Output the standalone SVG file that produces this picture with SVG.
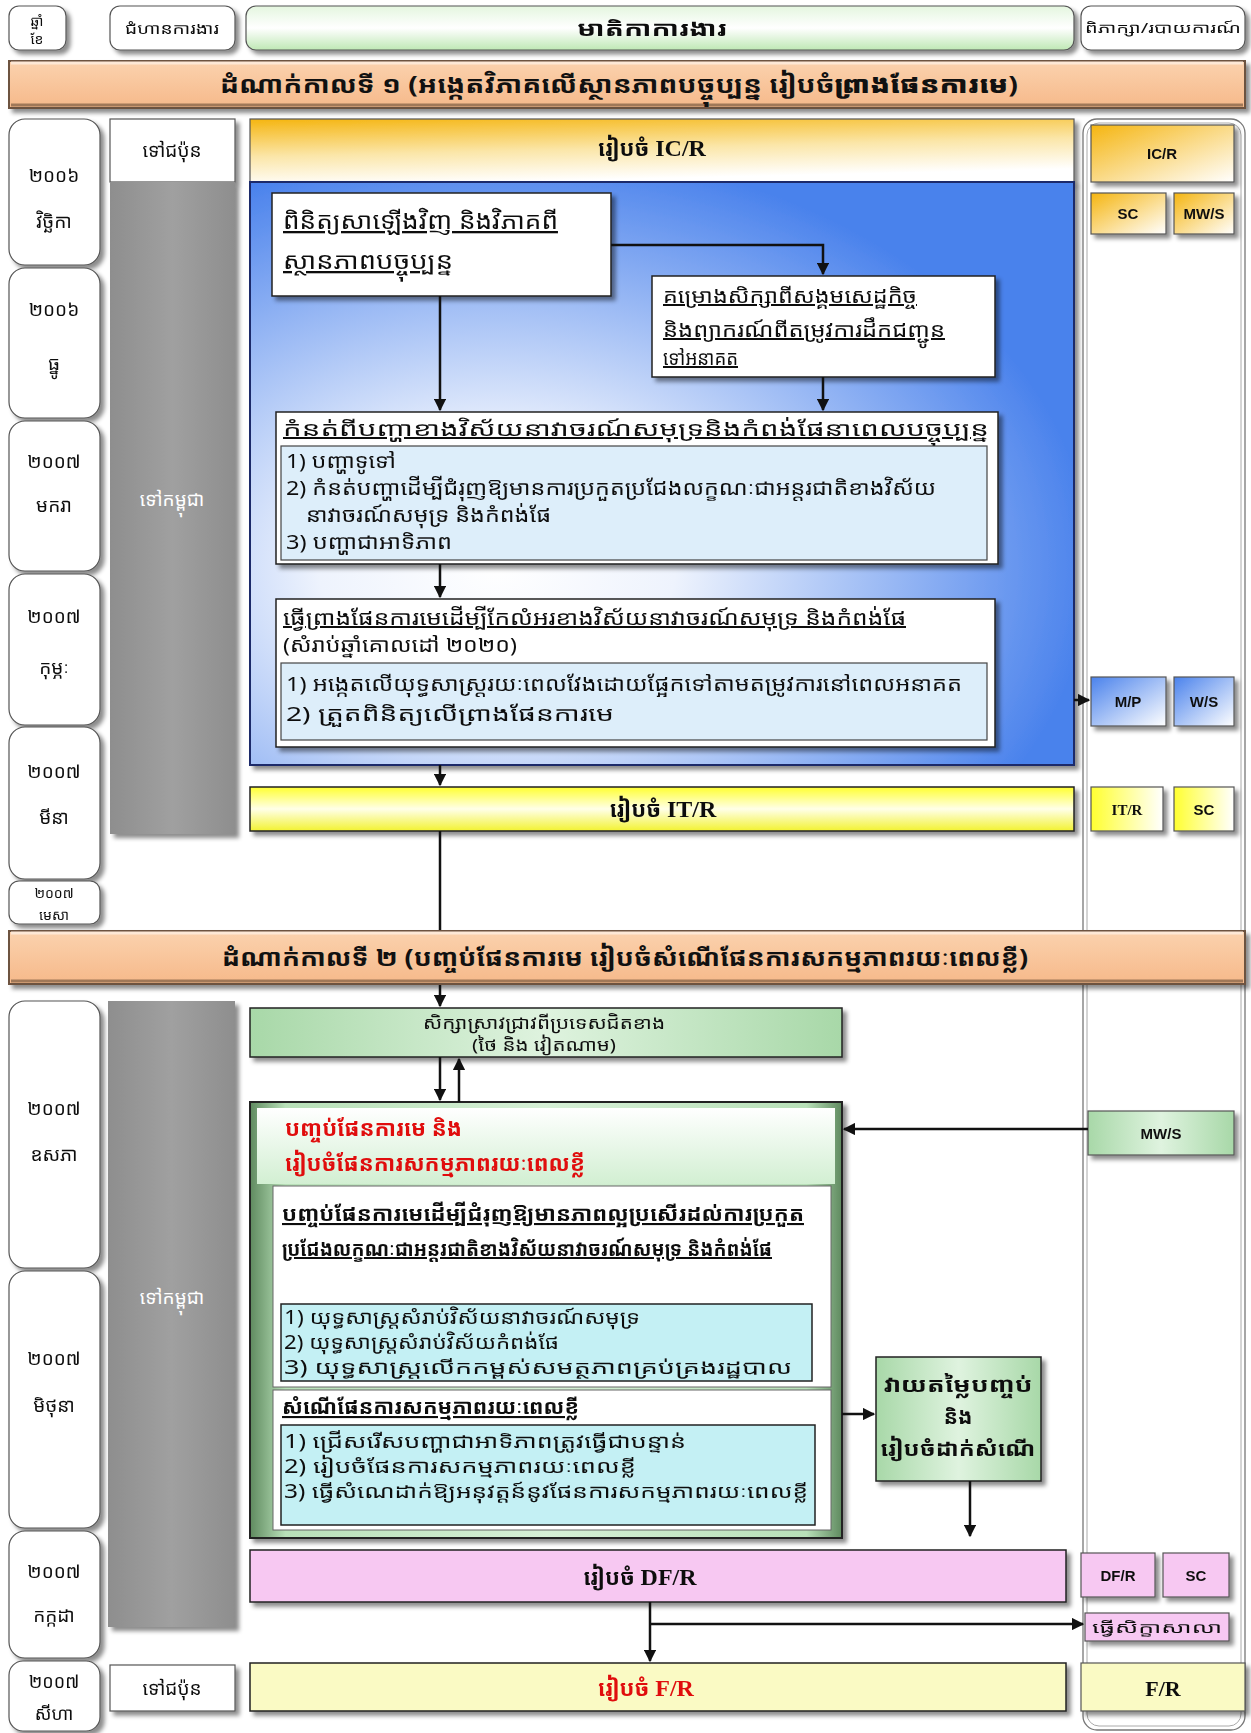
<svg xmlns="http://www.w3.org/2000/svg" width="1251" height="1733" viewBox="0 0 1251 1733">
  <style>
    .km { font-family: 'Noto Sans Khmer', 'Khmer OS', 'Noto Sans', 'DejaVu Sans', sans-serif; fill: #111; }
    .lat { font-family: 'Liberation Serif', serif; font-weight: bold; fill: #111; }
    .sans { font-family: 'Liberation Sans', Arial, sans-serif; font-weight: bold; fill: #111; }
    .box { stroke: #222; stroke-width: 1.5; }
    .soft { stroke: #555; stroke-width: 1.2; }
    .wire { stroke: #111; stroke-width: 2.5; fill: none; }
    .ul { text-decoration: underline; }
    .red { fill: #e01010; }
  </style>
  <defs>
    <filter id="shadow" x="-10%" y="-10%" width="130%" height="140%">
      <feDropShadow dx="4" dy="4" stdDeviation="2" flood-color="#000" flood-opacity="0.45"/>
    </filter>
    <marker id="arr" viewBox="0 0 10 10" refX="9" refY="5" markerWidth="5" markerHeight="5" orient="auto-start-reverse">
      <path d="M0,0 L10,5 L0,10 z" fill="#111"/>
    </marker>
    <linearGradient id="gHead" x1="0" y1="0" x2="0" y2="1">
      <stop offset="0" stop-color="#e4f6df"/>
      <stop offset="0.5" stop-color="#ffffff"/>
      <stop offset="1" stop-color="#bfe8b5"/>
    </linearGradient>
    <linearGradient id="gPeach" x1="0" y1="0" x2="0" y2="1">
      <stop offset="0" stop-color="#fbd2ae"/>
      <stop offset="1" stop-color="#f6b98a"/>
    </linearGradient>
    <linearGradient id="gGold" x1="0" y1="0" x2="0.3" y2="1">
      <stop offset="0" stop-color="#f5b510"/>
      <stop offset="0.55" stop-color="#fbe6a8"/>
      <stop offset="1" stop-color="#ffffff"/>
    </linearGradient>
    <linearGradient id="gGoldR" x1="0" y1="0" x2="1" y2="1">
      <stop offset="0" stop-color="#f5b510"/>
      <stop offset="1" stop-color="#ffffff"/>
    </linearGradient>
    <radialGradient id="gBlue" cx="0.3" cy="0.66" r="0.72">
      <stop offset="0" stop-color="#ffffff"/>
      <stop offset="0.3" stop-color="#eef3fd"/>
      <stop offset="1" stop-color="#4a82ec"/>
    </radialGradient>
    <linearGradient id="gBlueR" x1="0" y1="0" x2="1" y2="1">
      <stop offset="0" stop-color="#4a82ec"/>
      <stop offset="1" stop-color="#ffffff"/>
    </linearGradient>
    <linearGradient id="gYellow" x1="0" y1="0" x2="0" y2="1">
      <stop offset="0" stop-color="#ffff30"/>
      <stop offset="0.5" stop-color="#ffffe8"/>
      <stop offset="1" stop-color="#f2f230"/>
    </linearGradient>
    <linearGradient id="gYellowR" x1="0" y1="0" x2="1" y2="0">
      <stop offset="0" stop-color="#ffff30"/>
      <stop offset="1" stop-color="#ffffff"/>
    </linearGradient>
    <linearGradient id="gGreen" x1="0" y1="0" x2="1" y2="0">
      <stop offset="0" stop-color="#a8d8a8"/>
      <stop offset="0.5" stop-color="#dff3df"/>
      <stop offset="1" stop-color="#a8d8a8"/>
    </linearGradient>
    <linearGradient id="gGreenBig" x1="0" y1="0" x2="1" y2="0">
      <stop offset="0" stop-color="#5f8a5f"/>
      <stop offset="0.06" stop-color="#b8e0b8"/>
      <stop offset="0.5" stop-color="#d6f0d6"/>
      <stop offset="0.94" stop-color="#b8e0b8"/>
      <stop offset="1" stop-color="#5f8a5f"/>
    </linearGradient>
    <linearGradient id="gGreenTop" x1="0" y1="0" x2="0" y2="1">
      <stop offset="0" stop-color="#ffffff"/>
      <stop offset="1" stop-color="#d2efd2"/>
    </linearGradient>
    <linearGradient id="gGray" x1="0" y1="0" x2="1" y2="0">
      <stop offset="0" stop-color="#8e8e8e"/>
      <stop offset="0.5" stop-color="#a0a0a0"/>
      <stop offset="1" stop-color="#8e8e8e"/>
    </linearGradient>
  </defs>

  <rect width="1251" height="1733" fill="#ffffff"/>

  <!-- column headings -->
  <g id="hdr-month" filter="url(#shadow)">
    <rect x="9" y="6" width="57" height="44" rx="10" fill="#fff" class="soft"/>
    <text x="37" y="26" class="km" font-size="14" text-anchor="middle">ឆ្នាំ</text>
    <text x="37" y="44" class="km" font-size="14" text-anchor="middle">ខែ</text>
  </g>
  <g id="hdr-step" filter="url(#shadow)">
    <rect x="110" y="6" width="125" height="44" rx="10" fill="#fff" class="soft"/>
    <text x="172" y="34" class="km" font-size="15" text-anchor="middle" textLength="94" lengthAdjust="spacingAndGlyphs">ជំហានការងារ</text>
  </g>
  <g id="hdr-content" filter="url(#shadow)">
    <rect x="246" y="6" width="828" height="44" rx="10" fill="url(#gHead)" class="soft"/>
    <text x="652" y="36" class="km" font-size="21" font-weight="bold" text-anchor="middle" textLength="150" lengthAdjust="spacingAndGlyphs">មាតិកាការងារ</text>
  </g>
  <g id="hdr-report" filter="url(#shadow)">
    <rect x="1081" y="6" width="164" height="44" rx="10" fill="#fff" class="soft"/>
    <text x="1163" y="33" class="km" font-size="14" text-anchor="middle" textLength="156" lengthAdjust="spacingAndGlyphs">ពិភាក្សា/របាយការណ៍</text>
  </g>

  <!-- phase 1 banner -->
  <g id="phase1">
    <rect x="9" y="61" width="1236" height="47" fill="url(#gPeach)" stroke="#6d5340" stroke-width="2" filter="url(#shadow)"/>
    <path d="M11,63 H1243" stroke="#fde8d6" stroke-width="3"/>
    <path d="M11,105 H1243" stroke="#a07858" stroke-width="3"/>
    <text x="619" y="93" class="km" font-size="24" font-weight="bold" text-anchor="middle" textLength="798" lengthAdjust="spacingAndGlyphs">ដំណាក់កាលទី ១ (អង្កេតវិភាគលើស្ថានភាពបច្ចុប្បន្ន  រៀបចំ<tspan font-weight="900">ព្រាងផែនការមេ</tspan>)</text>
  </g>

  <!-- month column -->
  <g id="m-nov06" filter="url(#shadow)">
    <rect x="9" y="119" width="91" height="146" rx="16" fill="#fff" class="soft"/>
    <text x="54" y="182" class="km" font-size="19" text-anchor="middle">២០០៦</text>
    <text x="54" y="228" class="km" font-size="19" text-anchor="middle">វិច្ឆិកា</text>
  </g>
  <g id="m-dec06" filter="url(#shadow)">
    <rect x="9" y="268" width="91" height="150" rx="16" fill="#fff" class="soft"/>
    <text x="54" y="316" class="km" font-size="19" text-anchor="middle">២០០៦</text>
    <text x="54" y="370" class="km" font-size="19" text-anchor="middle">ធ្នូ</text>
  </g>
  <g id="m-jan07" filter="url(#shadow)">
    <rect x="9" y="421" width="91" height="150" rx="16" fill="#fff" class="soft"/>
    <text x="54" y="468" class="km" font-size="19" text-anchor="middle">២០០៧</text>
    <text x="54" y="512" class="km" font-size="19" text-anchor="middle">មករា</text>
  </g>
  <g id="m-feb07" filter="url(#shadow)">
    <rect x="9" y="574" width="91" height="151" rx="16" fill="#fff" class="soft"/>
    <text x="54" y="623" class="km" font-size="19" text-anchor="middle">២០០៧</text>
    <text x="54" y="674" class="km" font-size="19" text-anchor="middle">កុម្ភៈ</text>
  </g>
  <g id="m-mar07" filter="url(#shadow)">
    <rect x="9" y="727" width="91" height="152" rx="16" fill="#fff" class="soft"/>
    <text x="54" y="778" class="km" font-size="19" text-anchor="middle">២០០៧</text>
    <text x="54" y="824" class="km" font-size="19" text-anchor="middle">មីនា</text>
  </g>
  <g id="m-apr07" filter="url(#shadow)">
    <rect x="9" y="881" width="91" height="43" rx="10" fill="#fff" class="soft"/>
    <text x="54" y="898" class="km" font-size="14" text-anchor="middle">២០០៧</text>
    <text x="54" y="920" class="km" font-size="14" text-anchor="middle">មេសា</text>
  </g>
  <g id="m-may07" filter="url(#shadow)">
    <rect x="9" y="1001" width="91" height="267" rx="16" fill="#fff" class="soft"/>
    <text x="54" y="1115" class="km" font-size="19" text-anchor="middle">២០០៧</text>
    <text x="54" y="1161" class="km" font-size="19" text-anchor="middle">ឧសភា</text>
  </g>
  <g id="m-jun07" filter="url(#shadow)">
    <rect x="9" y="1271" width="91" height="257" rx="16" fill="#fff" class="soft"/>
    <text x="54" y="1365" class="km" font-size="19" text-anchor="middle">២០០៧</text>
    <text x="54" y="1412" class="km" font-size="19" text-anchor="middle">មិថុនា</text>
  </g>
  <g id="m-jul07" filter="url(#shadow)">
    <rect x="9" y="1531" width="91" height="127" rx="16" fill="#fff" class="soft"/>
    <text x="54" y="1578" class="km" font-size="19" text-anchor="middle">២០០៧</text>
    <text x="54" y="1622" class="km" font-size="19" text-anchor="middle">កក្កដា</text>
  </g>
  <g id="m-aug07" filter="url(#shadow)">
    <rect x="9" y="1661" width="91" height="70" rx="14" fill="#fff" class="soft"/>
    <text x="54" y="1688" class="km" font-size="18" text-anchor="middle">២០០៧</text>
    <text x="54" y="1720" class="km" font-size="18" text-anchor="middle">សីហា</text>
  </g>

  <!-- place column -->
  <g id="p-japan1" filter="url(#shadow)">
    <rect x="110" y="119" width="125" height="63" fill="#fff" class="soft"/>
    <text x="172" y="157" class="km" font-size="19" text-anchor="middle">ទៅជប៉ុន</text>
  </g>
  <g id="p-cambodia1">
    <rect x="110" y="182" width="125" height="652" fill="url(#gGray)" filter="url(#shadow)"/>
    <text x="172" y="506" class="km" font-size="19" style="fill:#fff" text-anchor="middle">ទៅកម្ពុជា</text>
  </g>
  <g id="p-cambodia2">
    <rect x="108" y="1001" width="127" height="626" fill="url(#gGray)" filter="url(#shadow)"/>
    <text x="172" y="1304" class="km" font-size="19" style="fill:#fff" text-anchor="middle">ទៅកម្ពុជា</text>
  </g>
  <g id="p-japan2" filter="url(#shadow)">
    <rect x="110" y="1665" width="125" height="46" fill="#fff" class="soft"/>
    <text x="172" y="1695" class="km" font-size="19" text-anchor="middle">ទៅជប៉ុន</text>
  </g>

  <!-- report column frame -->
  <g id="report-frame">
    <rect x="1083" y="119" width="162" height="1611" rx="14" fill="#fff" stroke="#777" stroke-width="1.3"/>
    <rect x="1087" y="123" width="154" height="1603" rx="12" fill="none" stroke="#aaa" stroke-width="1"/>
  </g>

  <!-- phase 1 content -->
  <g id="icr" filter="url(#shadow)">
    <rect x="250" y="119" width="824" height="63" fill="url(#gGold)" class="soft"/>
    <text x="652" y="156" font-size="22" text-anchor="middle"><tspan class="km" font-weight="bold">រៀបចំ </tspan><tspan class="lat" font-size="24"> IC/R</tspan></text>
  </g>
  <g id="survey-area">
    <rect x="250" y="182" width="824" height="583" fill="url(#gBlue)" stroke="#1a2a6a" stroke-width="2" filter="url(#shadow)"/>
  </g>

  <g id="review" filter="url(#shadow)">
    <rect x="272" y="193" width="339" height="103" fill="#fff" class="box"/>
    <text x="283" y="229" class="km ul" font-size="23" textLength="275" lengthAdjust="spacingAndGlyphs">ពិនិត្យសាឡើងវិញ និងវិភាគពី</text>
    <text x="283" y="269" class="km ul" font-size="23" textLength="170" lengthAdjust="spacingAndGlyphs">ស្ថានភាពបច្ចុប្បន្ន</text>
  </g>
  <g id="forecast" filter="url(#shadow)">
    <rect x="652" y="276" width="343" height="101" fill="#fff" class="box"/>
    <text x="663" y="303" class="km ul" font-size="20" textLength="254" lengthAdjust="spacingAndGlyphs">គម្រោងសិក្សាពីសង្គមសេដ្ឋកិច្ច</text>
    <text x="663" y="337" class="km ul" font-size="20" textLength="282" lengthAdjust="spacingAndGlyphs">និងព្យាករណ៍ពីតម្រូវការដឹកជញ្ជូន</text>
    <text x="663" y="365" class="km ul" font-size="20" textLength="75" lengthAdjust="spacingAndGlyphs">ទៅអនាគត</text>
  </g>
  <g id="issues" filter="url(#shadow)">
    <rect x="276" y="412" width="722" height="152" fill="#fff" class="box"/>
    <text x="283" y="436" class="km ul" font-size="20" textLength="706" lengthAdjust="spacingAndGlyphs">កំនត់ពីបញ្ហាខាងវិស័យនាវាចរណ៍សមុទ្រនិងកំពង់ផែនាពេលបច្ចុប្បន្ន</text>
    <rect x="281" y="446" width="706" height="114" fill="#ddeefa" stroke="#444" stroke-width="1.2"/>
    <text x="286" y="468" class="km" font-size="20" textLength="110" lengthAdjust="spacingAndGlyphs">1) បញ្ហាទូទៅ</text>
    <text x="286" y="495" class="km" font-size="20" textLength="650" lengthAdjust="spacingAndGlyphs">2) កំនត់បញ្ហាដើម្បីជំរុញឱ្យមានការប្រកួតប្រជែងលក្ខណៈជាអន្តរជាតិខាងវិស័យ</text>
    <text x="306" y="522" class="km" font-size="20" textLength="245" lengthAdjust="spacingAndGlyphs">នាវាចរណ៍សមុទ្រ និងកំពង់ផែ</text>
    <text x="286" y="549" class="km" font-size="20" textLength="166" lengthAdjust="spacingAndGlyphs">3) បញ្ហាជាអាទិភាព</text>
  </g>
  <g id="draft-plan" filter="url(#shadow)">
    <rect x="276" y="599" width="719" height="148" fill="#fff" class="box"/>
    <text x="283" y="625" class="km ul" font-size="20" textLength="623" lengthAdjust="spacingAndGlyphs">ធ្វើព្រាងផែនការមេដើម្បីកែលំអរខាងវិស័យនាវាចរណ៍សមុទ្រ និងកំពង់ផែ</text>
    <text x="283" y="652" class="km" font-size="20" textLength="234" lengthAdjust="spacingAndGlyphs">(សំរាប់ឆ្នាំគោលដៅ ២០២០)</text>
    <rect x="281" y="663" width="706" height="77" fill="#ddeefa" stroke="#444" stroke-width="1.2"/>
    <text x="286" y="691" class="km" font-size="20" textLength="676" lengthAdjust="spacingAndGlyphs">1) អង្កេតលើយុទ្ធសាស្ត្ររយៈពេលវែងដោយផ្អែកទៅតាមតម្រូវការនៅពេលអនាគត</text>
    <text x="286" y="721" class="km" font-size="20" textLength="328" lengthAdjust="spacingAndGlyphs">2) ត្រួតពិនិត្យលើព្រាងផែនការមេ</text>
  </g>
  <g id="itr" filter="url(#shadow)">
    <rect x="250" y="787" width="824" height="44" fill="url(#gYellow)" class="box"/>
    <text x="663" y="817" font-size="22" text-anchor="middle"><tspan class="km" font-weight="bold">រៀបចំ </tspan><tspan class="lat" font-size="24"> IT/R</tspan></text>
  </g>

  <!-- phase 1 reports -->
  <g id="r-icr" filter="url(#shadow)">
    <rect x="1091" y="125" width="143" height="57" fill="url(#gGoldR)" class="soft"/>
    <text x="1162" y="159" class="sans" font-size="15" text-anchor="middle">IC/R</text>
  </g>
  <g id="r-sc1" filter="url(#shadow)">
    <rect x="1091" y="193" width="75" height="41" fill="url(#gGoldR)" class="soft"/>
    <text x="1128" y="219" class="sans" font-size="15" text-anchor="middle">SC</text>
  </g>
  <g id="r-mws1" filter="url(#shadow)">
    <rect x="1174" y="193" width="60" height="41" fill="url(#gGoldR)" class="soft"/>
    <text x="1204" y="219" class="sans" font-size="15" text-anchor="middle">MW/S</text>
  </g>
  <g id="r-mp" filter="url(#shadow)">
    <rect x="1091" y="677" width="75" height="49" fill="url(#gBlueR)" class="soft"/>
    <text x="1128" y="707" class="sans" font-size="15" text-anchor="middle">M/P</text>
  </g>
  <g id="r-ws" filter="url(#shadow)">
    <rect x="1174" y="677" width="60" height="49" fill="url(#gBlueR)" class="soft"/>
    <text x="1204" y="707" class="sans" font-size="15" text-anchor="middle">W/S</text>
  </g>
  <g id="r-itr" filter="url(#shadow)">
    <rect x="1091" y="787" width="72" height="44" fill="url(#gYellowR)" class="soft"/>
    <text x="1127" y="815" class="lat" font-size="15" text-anchor="middle">IT/R</text>
  </g>
  <g id="r-sc2" filter="url(#shadow)">
    <rect x="1174" y="787" width="60" height="44" fill="url(#gYellowR)" class="soft"/>
    <text x="1204" y="815" class="sans" font-size="15" text-anchor="middle">SC</text>
  </g>

  <!-- phase 2 banner -->
  <g id="phase2">
    <rect x="9" y="931" width="1236" height="53" fill="url(#gPeach)" stroke="#6d5340" stroke-width="2" filter="url(#shadow)"/>
    <path d="M11,933 H1243" stroke="#fde8d6" stroke-width="3"/>
    <path d="M11,981 H1243" stroke="#a07858" stroke-width="3"/>
    <text x="625" y="966" class="km" font-size="24" font-weight="bold" text-anchor="middle" textLength="806" lengthAdjust="spacingAndGlyphs">ដំណាក់កាលទី ២ (បញ្ចប់ផែនការមេ  រៀបចំសំណើផែនការសកម្មភាពរយៈពេលខ្លី)</text>
  </g>

  <!-- phase 2 content -->
  <g id="neighbours" filter="url(#shadow)">
    <rect x="250" y="1008" width="592" height="49" fill="url(#gGreen)" class="box"/>
    <text x="544" y="1029" class="km" font-size="17" text-anchor="middle" textLength="242" lengthAdjust="spacingAndGlyphs">សិក្សាស្រាវជ្រាវពីប្រទេសជិតខាង</text>
    <text x="544" y="1051" class="km" font-size="17" text-anchor="middle" textLength="144" lengthAdjust="spacingAndGlyphs">(ថៃ និង វៀតណាម)</text>
  </g>
  <g id="finalize" filter="url(#shadow)">
    <rect x="250" y="1102" width="592" height="436" fill="url(#gGreenBig)" stroke="#222" stroke-width="2"/>
    <rect x="257" y="1108" width="578" height="76" fill="url(#gGreenTop)"/>
    <text x="285" y="1136" class="km red" font-size="22" font-weight="bold" textLength="177" lengthAdjust="spacingAndGlyphs">បញ្ចប់ផែនការមេ និង</text>
    <text x="285" y="1171" class="km red" font-size="22" font-weight="bold" textLength="300" lengthAdjust="spacingAndGlyphs">រៀបចំផែនការសកម្មភាពរយៈពេលខ្លី</text>
    <rect x="273" y="1186" width="558" height="201" fill="#fff" stroke="#666" stroke-width="1"/>
    <text x="282" y="1221" class="km ul" font-size="21" font-weight="bold" textLength="522" lengthAdjust="spacingAndGlyphs">បញ្ចប់ផែនការមេដើម្បីជំរុញឱ្យមានភាពល្អប្រសើរដល់ការប្រកួត</text>
    <text x="282" y="1256" class="km ul" font-size="20" font-weight="bold" textLength="490" lengthAdjust="spacingAndGlyphs">ប្រជែងលក្ខណៈជាអន្តរជាតិខាងវិស័យនាវាចរណ៍សមុទ្រ និងកំពង់ផែ</text>
    <rect x="281" y="1304" width="531" height="77" fill="#c4f0f4" stroke="#222" stroke-width="1.5"/>
    <text x="284" y="1324" class="km" font-size="19" textLength="356" lengthAdjust="spacingAndGlyphs">1) យុទ្ធសាស្ត្រសំរាប់វិស័យនាវាចរណ៍សមុទ្រ</text>
    <text x="284" y="1349" class="km" font-size="19" textLength="275" lengthAdjust="spacingAndGlyphs">2) យុទ្ធសាស្ត្រសំរាប់វិស័យកំពង់ផែ</text>
    <text x="284" y="1374" class="km" font-size="19" textLength="508" lengthAdjust="spacingAndGlyphs">3) យុទ្ធសាស្ត្រលើកកម្ពស់សមត្ថភាពគ្រប់គ្រងរដ្ឋបាល</text>
    <rect x="273" y="1390" width="558" height="140" fill="#fff" stroke="#666" stroke-width="1"/>
    <text x="282" y="1414" class="km ul" font-size="21" font-weight="bold" textLength="297" lengthAdjust="spacingAndGlyphs">សំណើផែនការសកម្មភាពរយៈពេលខ្លី</text>
    <rect x="281" y="1425" width="534" height="100" fill="#c4f0f4" stroke="#222" stroke-width="1.5"/>
    <text x="284" y="1448" class="km" font-size="19" textLength="402" lengthAdjust="spacingAndGlyphs">1) ជ្រើសរើសបញ្ហាជាអាទិភាពត្រូវធ្វើជាបន្ទាន់</text>
    <text x="284" y="1473" class="km" font-size="19" textLength="352" lengthAdjust="spacingAndGlyphs">2) រៀបចំផែនការសកម្មភាពរយៈពេលខ្លី</text>
    <text x="284" y="1498" class="km" font-size="19" textLength="524" lengthAdjust="spacingAndGlyphs">3) ធ្វើសំណេដាក់ឱ្យអនុវត្តន៍នូវផែនការសកម្មភាពរយៈពេលខ្លី</text>
  </g>
  <g id="evaluate" filter="url(#shadow)">
    <rect x="876" y="1357" width="165" height="124" fill="url(#gGreen)" class="box"/>
    <text x="958" y="1392" class="km" font-size="21" font-weight="bold" text-anchor="middle" textLength="149" lengthAdjust="spacingAndGlyphs">វាយតម្លៃបញ្ចប់</text>
    <text x="958" y="1424" class="km" font-size="21" font-weight="bold" text-anchor="middle">និង</text>
    <text x="958" y="1456" class="km" font-size="21" font-weight="bold" text-anchor="middle" textLength="155" lengthAdjust="spacingAndGlyphs">រៀបចំដាក់សំណើ</text>
  </g>
  <g id="dfr" filter="url(#shadow)">
    <rect x="250" y="1550" width="816" height="52" fill="#f7c8f2" class="box"/>
    <text x="640" y="1585" font-size="22" text-anchor="middle"><tspan class="km" font-weight="bold">រៀបចំ </tspan><tspan class="lat" font-size="24"> DF/R</tspan></text>
  </g>
  <g id="fr" filter="url(#shadow)">
    <rect x="250" y="1663" width="816" height="48" fill="#fafac4" class="box"/>
    <text x="646" y="1696" font-size="22" text-anchor="middle"><tspan class="km red" font-weight="bold">រៀបចំ </tspan><tspan class="lat red" font-size="24"> F/R</tspan></text>
  </g>

  <!-- phase 2 reports -->
  <g id="r-mws2" filter="url(#shadow)">
    <rect x="1088" y="1111" width="146" height="44" fill="url(#gGreen)" class="soft"/>
    <text x="1161" y="1139" class="sans" font-size="15" text-anchor="middle">MW/S</text>
  </g>
  <g id="r-dfr" filter="url(#shadow)">
    <rect x="1081" y="1553" width="74" height="44" fill="#f7c8f2" class="soft"/>
    <text x="1118" y="1581" class="sans" font-size="15" text-anchor="middle">DF/R</text>
  </g>
  <g id="r-sc3" filter="url(#shadow)">
    <rect x="1163" y="1553" width="66" height="44" fill="#f7c8f2" class="soft"/>
    <text x="1196" y="1581" class="sans" font-size="15" text-anchor="middle">SC</text>
  </g>
  <g id="r-seminar" filter="url(#shadow)">
    <rect x="1085" y="1613" width="144" height="28" fill="#f7c8f2" class="soft"/>
    <text x="1157" y="1633" class="km" font-size="15" text-anchor="middle" textLength="130" lengthAdjust="spacingAndGlyphs">ធ្វើសិក្ខាសាលា</text>
  </g>
  <g id="r-fr" filter="url(#shadow)">
    <rect x="1081" y="1663" width="164" height="48" fill="#fafac4" class="soft"/>
    <text x="1163" y="1696" class="lat" font-size="22" text-anchor="middle">F/R</text>
  </g>

  <!-- connectors -->
  <g id="connectors">
    <path d="M611,245 H823 V274" class="wire" marker-end="url(#arr)"/>
    <path d="M440,296 V410" class="wire" marker-end="url(#arr)"/>
    <path d="M823,377 V410" class="wire" marker-end="url(#arr)"/>
    <path d="M440,564 V597" class="wire" marker-end="url(#arr)"/>
    <path d="M440,765 V785" class="wire" marker-end="url(#arr)"/>
    <path d="M1074,700 H1089" class="wire" marker-end="url(#arr)"/>
    <path d="M440,831 V930" class="wire"/>
    <path d="M440,985 V1006" class="wire" marker-end="url(#arr)"/>
    <path d="M440,1057 V1100" class="wire" marker-end="url(#arr)"/>
    <path d="M459,1102 V1059" class="wire" marker-end="url(#arr)"/>
    <path d="M1088,1129 H844" class="wire" marker-end="url(#arr)"/>
    <path d="M842,1414 H874" class="wire" marker-end="url(#arr)"/>
    <path d="M970,1481 V1536" class="wire" marker-end="url(#arr)"/>
    <path d="M650,1602 V1661" class="wire" marker-end="url(#arr)"/>
    <path d="M650,1624 H1083" class="wire" marker-end="url(#arr)"/>
  </g>
</svg>
